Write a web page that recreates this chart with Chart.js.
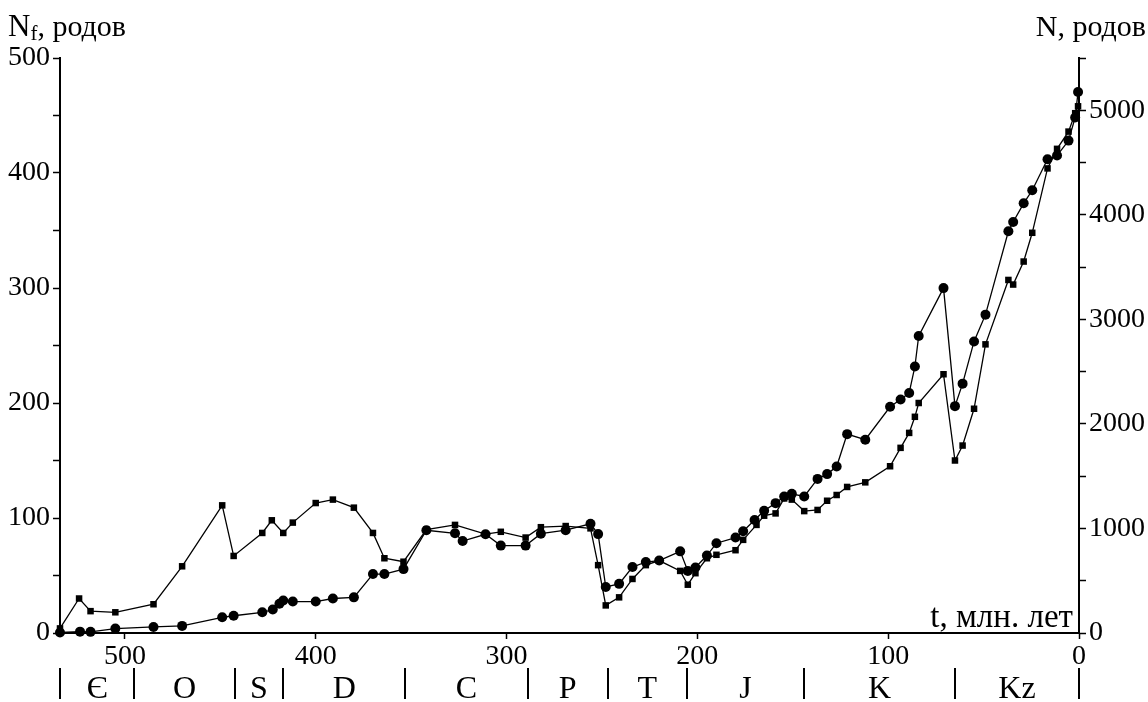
<!DOCTYPE html>
<html>
<head>
<meta charset="utf-8">
<script src="https://cdn.jsdelivr.net/npm/chart.js@4.4.1/dist/chart.umd.min.js"></script>
<style>
    body { margin: 0; background: #fff; }
    #caixa { width: 1148px; height: 702px; position: relative; }
</style>
</head>
<body>
<div id="caixa"><canvas id="grafico"></canvas></div>
<script>
// квадраты - левая ось (Nf)
const idadeQuadrados = [534, 524, 518, 505, 485, 470, 449, 443, 428, 423, 417, 412, 400, 391, 380, 370, 364, 354, 342, 327,
    311, 303, 290, 282, 269, 256, 252, 248, 241, 234, 227, 220, 209, 205, 201, 195, 190, 180, 176, 169,
    165, 159, 154.5, 150.5, 144, 137, 132, 127, 121.5, 112, 99, 93.5, 89, 86, 84, 71, 65, 61, 55, 49,
    37, 34.5, 29, 24.5, 16.5, 11.5, 5.5, 2, 0.5];
const valoresNf = [4, 30, 19, 18, 25, 58, 111, 67, 87, 98, 87, 96, 113, 116, 109, 87, 65, 62, 90, 94,
    86, 88, 83, 92, 93, 91, 59, 24, 31, 47, 59, 63, 54, 42, 52, 65, 68, 72, 81, 94,
    102, 104, 117, 116, 106, 107, 115, 120, 127, 131, 145, 161, 174, 188, 200, 225, 150, 163, 195, 251,
    307, 303, 323, 348, 404, 421, 436, 452, 458];

// кружки - правая ось (N)
const idadeCirculos = [534, 523.5, 518, 505, 485, 470, 449, 443, 428, 422.5, 419, 417, 412, 400, 391, 380, 370, 364, 354, 342,
    327, 323, 311, 303, 290, 282, 269, 256, 252, 248, 241, 234, 227, 220, 209, 205, 201, 195, 190, 180,
    176, 170, 165, 159, 154.5, 150.5, 144, 137, 132, 127, 121.5, 112, 99, 93.5, 89, 86, 84, 71, 65, 61,
    55, 49, 37, 34.5, 29, 24.5, 16.5, 11.5, 5.5, 2, 0.5];
const valoresN = [5, 13, 11, 42, 58, 68, 150, 165, 198, 224, 279, 311, 301, 301, 330, 341, 564, 564, 611, 983,
    954, 880, 944, 836, 836, 950, 983, 1045, 946, 440, 470, 631, 679, 693, 781, 594, 627, 741, 859, 913,
    974, 1081, 1170, 1242, 1306, 1331, 1306, 1474, 1520, 1592, 1902, 1849, 2164, 2234, 2296, 2549, 2841, 3299, 2170, 2385,
    2789, 3045, 3842, 3931, 4110, 4235, 4531, 4567, 4710, 4931, 5174];

const ticksX = [500, 400, 300, 200, 100, 0];
const limitesPeriodos = [534, 495, 442.5, 417, 353, 289, 247, 205.5, 144, 65, 0];
const nomesPeriodos = ['Є', 'O', 'S', 'D', 'C', 'P', 'T', 'J', 'K', 'Kz'];

const fonte = '"Liberation Serif", "DejaVu Serif", serif';

function pontos(idades, valores) {
    return idades.map((t, i) => ({ x: t, y: valores[i] }));
}

const textos = {
    id: 'textos',
    afterDraw(chart) {
        const c = chart.ctx;
        const x = chart.scales.x;
        c.save();
        c.fillStyle = '#000';
        c.strokeStyle = '#000';

        // границы периодов
        c.lineWidth = 2;
        limitesPeriodos.forEach(t => {
            let px = Math.round(x.getPixelForValue(t));
            c.beginPath();
            c.moveTo(px, 668);
            c.lineTo(px, 699);
            c.stroke();
        });
        c.font = '32px ' + fonte;
        c.textAlign = 'center';
        c.textBaseline = 'alphabetic';
        nomesPeriodos.forEach((n, i) => {
            let px = x.getPixelForValue((limitesPeriodos[i] + limitesPeriodos[i + 1]) / 2);
            c.fillText(n, px, 698);
        });

        // подписи осей
        c.textAlign = 'left';
        c.font = '31px ' + fonte;
        c.fillText('N', 8, 36);
        let w = c.measureText('N').width;
        c.font = '21px ' + fonte;
        c.fillText('f', 8 + w, 40);
        w += c.measureText('f').width;
        c.font = '30px ' + fonte;
        c.fillText(', родов', 8 + w, 36);

        c.textAlign = 'right';
        c.fillText('N, родов', 1146, 36);
        c.font = '33px ' + fonte;
        c.fillText('t, млн. лет', 1073, 627);
        c.restore();
    }
};

const ctx = document.getElementById('grafico');

new Chart(ctx, {
    type: 'line',
    data: {
        datasets: [
            {
                label: 'Nf',
                data: pontos(idadeQuadrados, valoresNf),
                yAxisID: 'yL',
                borderColor: '#000',
                borderWidth: 1.3,
                pointStyle: 'rect',
                pointRadius: 4.6,
                pointBackgroundColor: '#000',
                pointBorderColor: '#000',
                pointBorderWidth: 0,
                clip: false
            },
            {
                label: 'N',
                data: pontos(idadeCirculos, valoresN),
                yAxisID: 'yR',
                borderColor: '#000',
                borderWidth: 1.3,
                pointStyle: 'circle',
                pointRadius: 5,
                pointBackgroundColor: '#000',
                pointBorderColor: '#000',
                pointBorderWidth: 0,
                clip: false
            }
        ]
    },
    options: {
        responsive: true,
        maintainAspectRatio: false,
        animation: false,
        devicePixelRatio: 1,
        layout: { padding: { top: 58, left: 0, right: 0, bottom: 0 } },
        plugins: { legend: { display: false }, tooltip: { enabled: false } },
        scales: {
            x: {
                type: 'linear',
                reverse: true,
                min: 0,
                max: 534,
                afterBuildTicks: s => { s.ticks = ticksX.map(v => ({ value: v })); },
                afterFit: s => { s.height = 69; },
                border: { display: true, color: '#000', width: 2 },
                grid: { drawOnChartArea: false, drawTicks: true, tickLength: 6, tickColor: '#000', tickWidth: 1.5 },
                ticks: { color: '#000', font: { family: fonte, size: 28 }, padding: 1, maxRotation: 0, callback: v => String(v) }
            },
            yL: {
                type: 'linear',
                position: 'left',
                min: 0,
                max: 500,
                afterFit: s => { s.width = 60; },
                border: { display: true, color: '#000', width: 2 },
                grid: { drawOnChartArea: false, drawTicks: true, tickLength: 7, tickColor: '#000', tickWidth: 1.5 },
                ticks: { stepSize: 50, color: '#000', font: { family: fonte, size: 28 }, padding: 3,
                    callback: v => v % 100 === 0 ? String(v) : '' }
            },
            yR: {
                type: 'linear',
                position: 'right',
                min: 0,
                max: 5500,
                afterFit: s => { s.width = 69; },
                border: { display: true, color: '#000', width: 2 },
                grid: { drawOnChartArea: false, drawTicks: true, tickLength: 7, tickColor: '#000', tickWidth: 1.5 },
                ticks: { stepSize: 500, color: '#000', font: { family: fonte, size: 28 }, padding: 3,
                    callback: v => v % 1000 === 0 ? String(v) : '' }
            }
        }
    },
    plugins: [textos]
});
</script>
</body>
</html>
